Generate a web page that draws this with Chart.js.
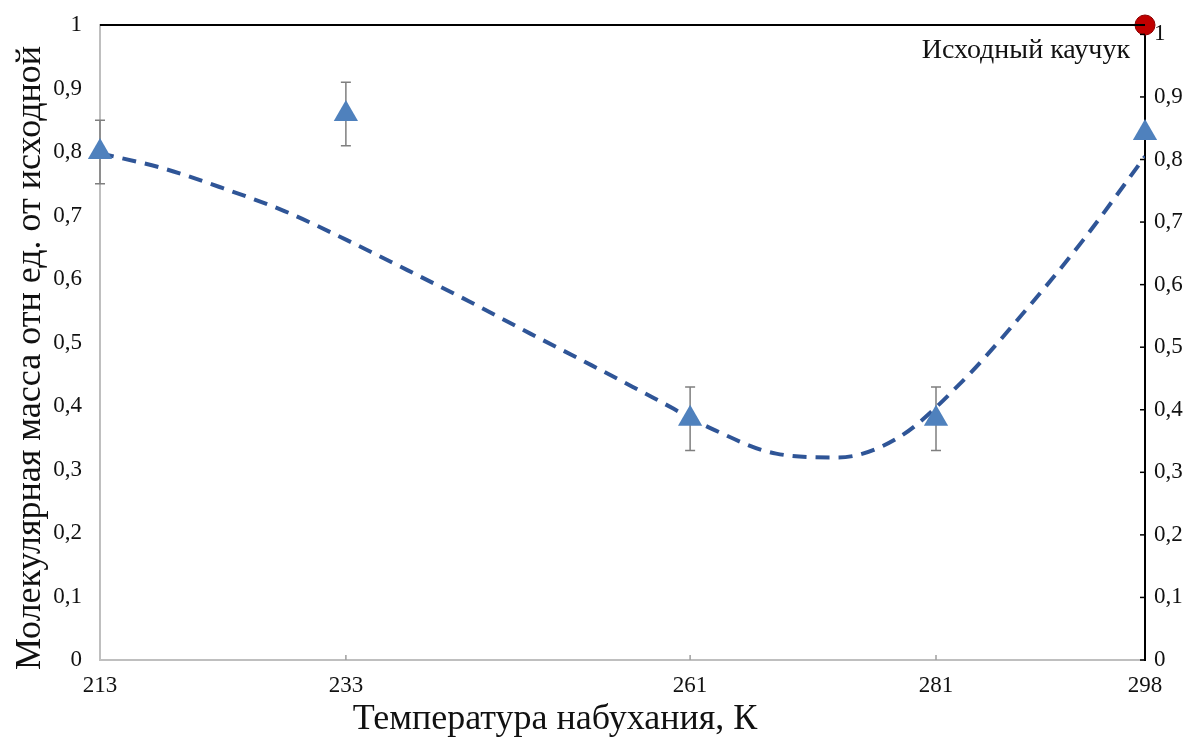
<!DOCTYPE html>
<html>
<head>
<meta charset="utf-8">
<script src="https://cdn.jsdelivr.net/npm/chart.js@4"></script>
<style>
  html, body { margin: 0; background: #fff; }
  #wrap { width: 1192px; height: 742px; }
</style>
</head>
<body>
<div id="wrap"><canvas id="chart"></canvas></div>
<script>
// measured points
const temps = [213, 233, 261, 281, 298];
const mass = [0.80, 0.86, 0.38, 0.38, 0.83];
const massErr = [0.05, 0.05, 0.05, 0.05, 0];

// original rubber
const origTemp = [298];
const origMass = [1];

// dashed trend line
const trendTemp = [213, 218, 223, 228, 233, 238, 243, 248, 253, 258, 263, 268, 273, 278, 283, 288, 293, 298];
const trendMass = [0.798, 0.775, 0.743, 0.707, 0.662, 0.614, 0.565, 0.514, 0.464, 0.413, 0.362, 0.325, 0.319, 0.351, 0.436, 0.544, 0.662, 0.793];

const xTicks = [213, 233, 261, 281, 298];
const yTicks = [0, 0.1, 0.2, 0.3, 0.4, 0.5, 0.6, 0.7, 0.8, 0.9, 1];

const SERIF = "'Liberation Serif', 'DejaVu Serif', serif";
const fmt = v => (v === 0 || v === 1) ? String(v) : v.toFixed(1).replace('.', ',');

const toXY = (xs, ys) => xs.map((x, i) => ({ x: x, y: ys[i] }));

// error bars, frame, inner ticks, titles and the note
const extras = {
  id: 'extras',
  beforeDatasetsDraw(chart) {
    const ctx = chart.ctx, x = chart.scales.x, y = chart.scales.y;
    ctx.save();
    ctx.strokeStyle = '#7f7f7f';
    ctx.lineWidth = 1.5;
    temps.forEach((t, i) => {
      if (!massErr[i]) return;
      const px = x.getPixelForValue(t);
      const top = y.getPixelForValue(mass[i] + massErr[i]);
      const bot = y.getPixelForValue(mass[i] - massErr[i]);
      ctx.beginPath();
      ctx.moveTo(px, top); ctx.lineTo(px, bot);
      ctx.moveTo(px - 5, top); ctx.lineTo(px + 5, top);
      ctx.moveTo(px - 5, bot); ctx.lineTo(px + 5, bot);
      ctx.stroke();
    });
    ctx.restore();
  },
  afterDraw(chart) {
    const ctx = chart.ctx, a = chart.chartArea;
    const x = chart.scales.x, yr = chart.scales.y2, y = chart.scales.y;
    ctx.save();
    // top frame
    ctx.strokeStyle = '#000';
    ctx.lineWidth = 2;
    ctx.beginPath();
    ctx.moveTo(a.left, a.top); ctx.lineTo(a.right, a.top);
    ctx.stroke();
    // right axis inner ticks
    ctx.lineWidth = 1.5;
    yTicks.forEach(v => {
      const py = yr.getPixelForValue(v);
      ctx.beginPath(); ctx.moveTo(a.right - 5, py); ctx.lineTo(a.right, py); ctx.stroke();
    });
    // x axis inner ticks
    ctx.strokeStyle = '#9f9f9f';
    xTicks.slice(1, -1).forEach(v => {
      const px = x.getPixelForValue(v);
      ctx.beginPath(); ctx.moveTo(px, a.bottom); ctx.lineTo(px, a.bottom - 5); ctx.stroke();
    });
    // note next to the red point
    ctx.fillStyle = '#111';
    ctx.font = '28px ' + SERIF;
    ctx.textAlign = 'right';
    ctx.textBaseline = 'middle';
    ctx.fillText('Исходный каучук', x.getPixelForValue(origTemp[0]) - 15, y.getPixelForValue(origMass[0]) + 26);
    // axis titles
    ctx.font = '36px ' + SERIF;
    ctx.textAlign = 'center';
    ctx.fillText('Температура набухания, К', 555, 720);
    ctx.translate(31, 358);
    ctx.rotate(-Math.PI / 2);
    ctx.fillText('Молекулярная масса отн ед. от исходной', 0, 0);
    ctx.restore();
  }
};

new Chart(document.getElementById('chart'), {
  type: 'line',
  data: {
    datasets: [
      {
        label: 'Измерения',
        data: toXY(temps, mass),
        showLine: false,
        pointStyle: 'triangle',
        pointRadius: 14,
        pointHoverRadius: 14,
        pointBackgroundColor: '#4f81bd',
        pointBorderColor: '#4f81bd',
        pointBorderWidth: 0,
        clip: false,
      },
      {
        label: 'Исходный каучук',
        data: toXY(origTemp, origMass),
        showLine: false,
        pointStyle: 'circle',
        pointRadius: 10,
        pointBackgroundColor: '#c00000',
        pointBorderColor: '#8c0000',
        pointBorderWidth: 1,
        clip: false,
      },
      {
        label: 'Тренд',
        data: toXY(trendTemp, trendMass),
        borderColor: '#2f5597',
        borderWidth: 4,
        borderDash: [14, 9],
        pointRadius: 0,
        cubicInterpolationMode: 'monotone',
        fill: false,
      },
    ],
  },
  options: {
    responsive: true,
    maintainAspectRatio: false,
    animation: false,
    layout: { padding: { top: 25 } },
    plugins: {
      legend: { display: false },
      tooltip: { enabled: false },
    },
    scales: {
      x: {
        type: 'linear',
        min: 213,
        max: 298,
        afterBuildTicks: s => { s.ticks = xTicks.map(v => ({ value: v })); },
        afterFit: s => { s.height = 82; },
        grid: { display: false },
        border: { color: '#bfbfbf', width: 2 },
        ticks: {
          padding: 4,
          color: '#111',
          font: { family: SERIF, size: 23 },
          maxRotation: 0,
          callback: v => String(v),
        },
      },
      y: {
        min: 0,
        max: 1,
        afterBuildTicks: s => { s.ticks = yTicks.map(v => ({ value: v })); },
        afterFit: s => { s.width = 100; },
        grid: { display: false },
        border: { color: '#bfbfbf', width: 2 },
        ticks: {
          padding: 10,
          color: '#111',
          font: { family: SERIF, size: 23 },
          callback: v => fmt(v),
        },
      },
      y2: {
        position: 'right',
        min: 0,
        max: 1.015,
        afterBuildTicks: s => { s.ticks = yTicks.map(v => ({ value: v })); },
        afterFit: s => { s.width = 47; },
        grid: { display: false },
        border: { color: '#000', width: 2 },
        ticks: {
          padding: 1,
          color: '#111',
          font: { family: SERIF, size: 23 },
          callback: v => fmt(v),
        },
      },
    },
  },
  plugins: [extras],
});
</script>
</body>
</html>
